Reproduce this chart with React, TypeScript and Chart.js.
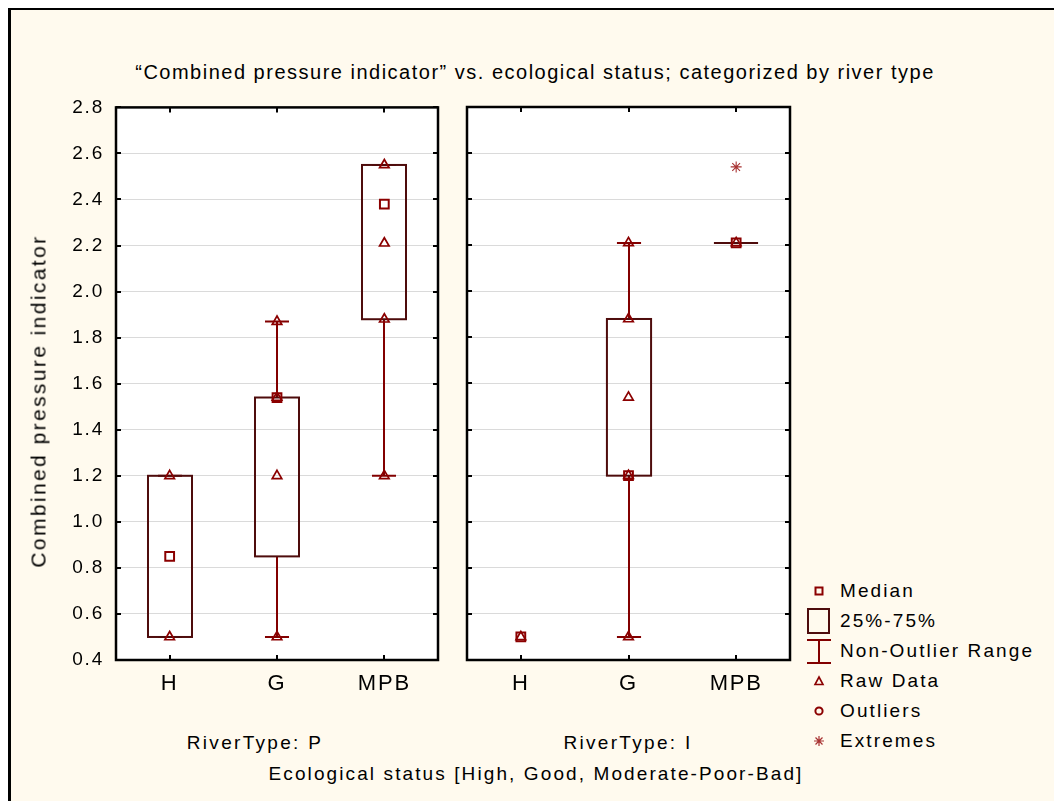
import React, { useEffect, useRef } from 'react';
import { Chart, registerables } from 'chart.js';

Chart.register(...registerables);

// ---- data ----
const categories = ['H', 'G', 'MPB'];
const yMin = 0.4;
const yMax = 2.8;
const yStep = 0.2;

// River type P
const medianP = [0.85, 1.54, 2.38];
const q1P = [0.5, 0.85, 1.88];
const q3P = [1.2, 1.54, 2.55];
const lowP = [0.5, 0.5, 1.2];
const highP = [1.2, 1.87, 2.55];
const rawP = [[0.5, 1.2], [0.5, 1.2, 1.54, 1.87], [1.2, 1.88, 2.21, 2.55]];
const extremesP: (number | null)[] = [null, null, null];

// River type I
const medianI = [0.5, 1.2, 2.21];
const q1I: (number | null)[] = [null, 1.2, 2.21];
const q3I: (number | null)[] = [null, 1.88, 2.21];
const lowI: (number | null)[] = [null, 0.5, 2.21];
const highI: (number | null)[] = [null, 2.21, 2.21];
const rawI = [[0.5], [0.5, 1.2, 1.54, 1.88, 2.21], [2.21]];
const extremesI: (number | null)[] = [null, null, 2.54];

const legendItems = ['Median', '25%-75%', 'Non-Outlier Range', 'Raw Data', 'Outliers', 'Extremes'];

// ---- styling ----
const FONT = '"Liberation Sans", Arial, sans-serif';
const SPACING = 1.8;
const BOX_COLOR = '#4e0c0c';
const WHISKER_COLOR = '#820000';
const MARK_COLOR = '#8b0000';
const EXTREME_COLOR = '#a83232';
const CREAM = '#fffaee';

type Panel = {
  median: (number | null)[];
  q1: (number | null)[];
  q3: (number | null)[];
  low: (number | null)[];
  high: (number | null)[];
  raw: number[][];
  extremes: (number | null)[];
  showYLabels: boolean;
};

function boxPlugin(p: Panel) {
  return {
    id: 'boxWhisker',
    beforeDraw(chart: any) {
      const { ctx, chartArea: a } = chart;
      ctx.save();
      ctx.fillStyle = '#ffffff';
      ctx.fillRect(a.left, a.top, a.right - a.left, a.bottom - a.top);
      ctx.restore();
      // wide letter spacing for the axis labels
      ctx.letterSpacing = `${SPACING}px`;
    },
    beforeDatasetsDraw(chart: any) {
      const { ctx } = chart;
      const xs = chart.scales.x;
      const ys = chart.scales.y;
      const spacing = xs.getPixelForValue(1) - xs.getPixelForValue(0);
      const boxHalf = spacing * 0.205;
      const capHalf = spacing * 0.112;
      ctx.save();
      categories.forEach((_, i) => {
        const cx = Math.round(xs.getPixelForValue(i));
        const lo = p.low[i], hi = p.high[i], a = p.q1[i], b = p.q3[i];
        if (lo != null && hi != null && a != null && b != null) {
          ctx.strokeStyle = WHISKER_COLOR;
          ctx.lineWidth = 2;
          const yLo = ys.getPixelForValue(lo);
          const yHi = ys.getPixelForValue(hi);
          const yA = ys.getPixelForValue(a);
          const yB = ys.getPixelForValue(b);
          ctx.beginPath();
          ctx.moveTo(cx, yLo);
          ctx.lineTo(cx, yA);
          ctx.moveTo(cx, yB);
          ctx.lineTo(cx, yHi);
          ctx.moveTo(cx - capHalf, yLo);
          ctx.lineTo(cx + capHalf, yLo);
          ctx.moveTo(cx - capHalf, yHi);
          ctx.lineTo(cx + capHalf, yHi);
          ctx.stroke();
          ctx.strokeStyle = BOX_COLOR;
          ctx.lineWidth = 2;
          ctx.strokeRect(cx - boxHalf, yB, boxHalf * 2, yA - yB);
        }
      });
      ctx.restore();
    },
    afterDraw(chart: any) {
      const { ctx, chartArea: a } = chart;
      const xs = chart.scales.x;
      const ys = chart.scales.y;
      ctx.save();
      ctx.strokeStyle = '#000';
      ctx.lineWidth = 2;
      ctx.beginPath();
      const tl = 5;
      ys.ticks.forEach((t: any) => {
        const y = Math.round(ys.getPixelForValue(t.value));
        ctx.moveTo(a.left, y);
        ctx.lineTo(a.left + tl, y);
        ctx.moveTo(a.right, y);
        ctx.lineTo(a.right - tl, y);
      });
      categories.forEach((_, i) => {
        const x = Math.round(xs.getPixelForValue(i));
        ctx.moveTo(x, a.top);
        ctx.lineTo(x, a.top + tl);
        ctx.moveTo(x, a.bottom);
        ctx.lineTo(x, a.bottom - tl);
      });
      ctx.stroke();
      ctx.lineWidth = 2.5;
      ctx.strokeRect(a.left, a.top, a.right - a.left, a.bottom - a.top);
      ctx.restore();
    },
  };
}

function makeConfig(p: Panel, yAxisWidth: number, padding: any) {
  const medians = p.median
    .map((v, i) => (v == null ? null : { x: categories[i], y: v }))
    .filter(Boolean);
  const raws: any[] = [];
  p.raw.forEach((vals, i) => vals.forEach((v) => raws.push({ x: categories[i], y: v })));
  const extremes = p.extremes
    .map((v, i) => (v == null ? null : { x: categories[i], y: v }))
    .filter(Boolean);

  return {
    type: 'line' as const,
    data: {
      labels: categories,
      datasets: [
        {
          label: 'Median',
          data: medians,
          showLine: false,
          pointStyle: 'rect',
          pointRadius: 6.2,
          pointBorderWidth: 2,
          pointBorderColor: MARK_COLOR,
          pointBackgroundColor: 'rgba(0,0,0,0)',
          order: 3,
        },
        {
          label: 'Raw Data',
          data: raws,
          showLine: false,
          pointStyle: 'triangle',
          pointRadius: 5.5,
          pointBorderWidth: 1.7,
          pointBorderColor: MARK_COLOR,
          pointBackgroundColor: 'rgba(0,0,0,0)',
          order: 2,
        },
        {
          label: 'Extremes',
          data: extremes,
          showLine: false,
          pointStyle: 'star',
          pointRadius: 5.5,
          pointBorderWidth: 1.1,
          pointBorderColor: EXTREME_COLOR,
          pointBackgroundColor: EXTREME_COLOR,
          order: 1,
        },
      ],
    },
    options: {
      responsive: false,
      maintainAspectRatio: false,
      animation: false,
      events: [],
      layout: { padding },
      plugins: {
        legend: { display: false },
        tooltip: { enabled: false },
        title: { display: false },
      },
      scales: {
        x: {
          type: 'category',
          offset: true,
          grid: { display: false, drawTicks: false },
          border: { display: false },
          ticks: {
            color: '#000',
            padding: 11,
            font: { family: FONT, size: 22 },
          },
          afterFit: (s: any) => {
            s.height = 35;
          },
        },
        y: {
          type: 'linear',
          min: yMin,
          max: yMax,
          grid: { color: '#dadada', lineWidth: 1, drawTicks: false },
          border: { display: false },
          ticks: {
            display: p.showYLabels,
            stepSize: yStep,
            color: '#000',
            padding: 12,
            font: { family: FONT, size: 19 },
            callback: (v: any) => Number(v).toFixed(1),
          },
          afterFit: (s: any) => {
            s.width = yAxisWidth;
          },
        },
      },
    },
    plugins: [boxPlugin(p)],
  };
}

function PanelChart(props: { panel: Panel; left: number; top: number; width: number; height: number; yAxisWidth: number; padding: any }) {
  const ref = useRef<HTMLCanvasElement | null>(null);
  useEffect(() => {
    if (!ref.current) return;
    const chart = new Chart(ref.current, makeConfig(props.panel, props.yAxisWidth, props.padding) as any);
    return () => chart.destroy();
  }, []);
  return (
    <canvas
      ref={ref}
      width={props.width}
      height={props.height}
      style={{ position: 'absolute', left: props.left, top: props.top, width: props.width, height: props.height }}
    />
  );
}

function LegendIcon({ kind }: { kind: number }) {
  const s = { width: 26, height: 30 };
  switch (kind) {
    case 0:
      return (
        <svg {...s}><rect x={9.5} y={11.5} width={7} height={7} fill="none" stroke={MARK_COLOR} strokeWidth={2} /></svg>
      );
    case 1:
      return (
        <svg {...s}><rect x={2} y={3} width={21} height={24} fill="none" stroke={BOX_COLOR} strokeWidth={2} /></svg>
      );
    case 2:
      return (
        <svg {...s}>
          <path d="M1 4 H25 M13 4 V27 M1 27 H25" stroke={WHISKER_COLOR} strokeWidth={2} fill="none" />
        </svg>
      );
    case 3:
      return (
        <svg {...s}><path d="M13 11 L17 18.5 L9 18.5 Z" fill="none" stroke={MARK_COLOR} strokeWidth={1.6} /></svg>
      );
    case 4:
      return (
        <svg {...s}><circle cx={13} cy={15} r={3.6} fill="none" stroke={MARK_COLOR} strokeWidth={2} /></svg>
      );
    default:
      return (
        <svg {...s}>
          <path d="M13 10 V20 M8 15 H18 M9.5 11.5 L16.5 18.5 M16.5 11.5 L9.5 18.5" stroke={EXTREME_COLOR} strokeWidth={1.2} fill="none" />
        </svg>
      );
  }
}

const panelP: Panel = { median: medianP, q1: q1P, q3: q3P, low: lowP, high: highP, raw: rawP, extremes: extremesP, showYLabels: true };
const panelI: Panel = { median: medianI, q1: q1I, q3: q3I, low: lowI, high: highI, raw: rawI, extremes: extremesI, showYLabels: false };

function Label({ x, y, text, size = 19, spacing = SPACING, rotate = false }: { x: number; y: number; text: string; size?: number; spacing?: number; rotate?: boolean }) {
  return (
    <div
      style={{
        position: 'absolute',
        left: x,
        top: y,
        transform: `translate(-50%, -50%)${rotate ? ' rotate(-90deg)' : ''}`,
        whiteSpace: 'nowrap',
        fontFamily: FONT,
        fontSize: size,
        letterSpacing: spacing,
        color: '#000',
        lineHeight: 1,
        zIndex: 2,
      }}
    >
      {text}
    </div>
  );
}

export default function App() {
  return (
    <div style={{ position: 'absolute', left: 0, top: 0, width: 1054, height: 801, overflow: 'hidden', background: '#fff' }}>
      <div
        style={{
          position: 'absolute',
          left: 8,
          top: 8,
          width: 1046,
          height: 793,
          boxSizing: 'border-box',
          borderLeft: '3px solid #000',
          borderTop: '2px solid #000',
          background: CREAM,
        }}
      />
      <Label x={535} y={72} text={'\u201cCombined pressure indicator\u201d vs. ecological status; categorized by river type'} size={20} spacing={1.5} />
      <PanelChart panel={panelP} left={0} top={84} width={450} height={611} yAxisWidth={116} padding={{ top: 12, right: 12, left: 0, bottom: 0 }} />
      <PanelChart panel={panelI} left={455} top={95} width={345} height={600} yAxisWidth={0} padding={{ top: 12, right: 10, left: 12, bottom: 0 }} />
      <Label x={38} y={401} text="Combined pressure indicator" size={21} spacing={2.4} rotate />
      <Label x={255} y={742} text="RiverType: P" spacing={2.3} />
      <Label x={628} y={742} text="RiverType: I" spacing={2.3} />
      <Label x={536} y={773} text="Ecological status [High, Good, Moderate-Poor-Bad]" spacing={2.1} />
      {legendItems.map((t, i) => (
        <div
          key={t}
          style={{ position: 'absolute', left: 806, top: 576 + i * 30, height: 30, display: 'flex', alignItems: 'center' }}
        >
          <LegendIcon kind={i} />
          <span style={{ marginLeft: 8, fontFamily: FONT, fontSize: 19, letterSpacing: 2.1, color: '#000', whiteSpace: 'nowrap' }}>{t}</span>
        </div>
      ))}
    </div>
  );
}
